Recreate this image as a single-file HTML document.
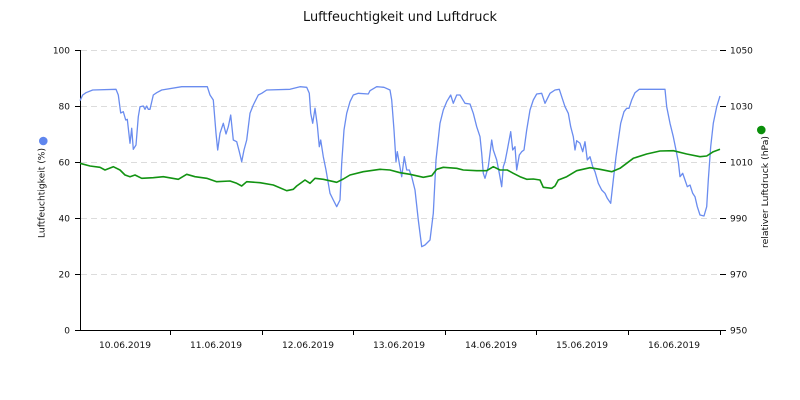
<!DOCTYPE html>
<html><head><meta charset="utf-8"><style>
html,body{margin:0;padding:0;background:#fff;}
svg{display:block;}
text{font-family:"DejaVu Sans","Liberation Sans",sans-serif;fill:#111;}
</style></head><body>
<svg width="800" height="400" viewBox="0 0 800 400" xmlns="http://www.w3.org/2000/svg">
<rect width="800" height="400" fill="#fff"/>
<text x="400" y="21" font-size="13" text-anchor="middle" textLength="194" lengthAdjust="spacingAndGlyphs">Luftfeuchtigkeit und Luftdruck</text>
<g stroke="#dcdcdc" stroke-width="1" stroke-dasharray="6,4">
<line x1="81" y1="50.5" x2="720" y2="50.5"/>
<line x1="81" y1="106.5" x2="720" y2="106.5"/>
<line x1="81" y1="162.5" x2="720" y2="162.5"/>
<line x1="81" y1="218.5" x2="720" y2="218.5"/>
<line x1="81" y1="274.5" x2="720" y2="274.5"/>
</g>
<g stroke="#000" stroke-width="1" fill="none">
<line x1="80.5" y1="50" x2="80.5" y2="330"/>
<line x1="75" y1="330.5" x2="721" y2="330.5"/>
<line x1="75" y1="50.5" x2="80" y2="50.5"/>
<line x1="75" y1="106.5" x2="80" y2="106.5"/>
<line x1="75" y1="162.5" x2="80" y2="162.5"/>
<line x1="75" y1="218.5" x2="80" y2="218.5"/>
<line x1="75" y1="274.5" x2="80" y2="274.5"/>
<line x1="720" y1="50.5" x2="726" y2="50.5"/>
<line x1="720" y1="106.5" x2="726" y2="106.5"/>
<line x1="720" y1="162.5" x2="726" y2="162.5"/>
<line x1="720" y1="218.5" x2="726" y2="218.5"/>
<line x1="720" y1="274.5" x2="726" y2="274.5"/>
<line x1="720" y1="330.5" x2="726" y2="330.5"/>
<line x1="170.5" y1="330" x2="170.5" y2="335"/>
<line x1="262.5" y1="330" x2="262.5" y2="335"/>
<line x1="353.5" y1="330" x2="353.5" y2="335"/>
<line x1="445.5" y1="330" x2="445.5" y2="335"/>
<line x1="536.5" y1="330" x2="536.5" y2="335"/>
<line x1="628.5" y1="330" x2="628.5" y2="335"/>
<line x1="720.5" y1="330" x2="720.5" y2="335"/>
</g>
<g font-size="9" text-anchor="end">
<text x="70" y="53.5">100</text>
<text x="70" y="109.5">80</text>
<text x="70" y="165.5">60</text>
<text x="70" y="221.5">40</text>
<text x="70" y="277.5">20</text>
<text x="70" y="333.5">0</text>
</g>
<g font-size="9" text-anchor="start">
<text x="730" y="53.5">1050</text>
<text x="730" y="109.5">1030</text>
<text x="730" y="165.5">1010</text>
<text x="730" y="221.5">990</text>
<text x="730" y="277.5">970</text>
<text x="730" y="333.5">950</text>
</g>
<g font-size="9" text-anchor="middle">
<text x="125" y="348" textLength="52" lengthAdjust="spacingAndGlyphs">10.06.2019</text>
<text x="216" y="348" textLength="52" lengthAdjust="spacingAndGlyphs">11.06.2019</text>
<text x="308" y="348" textLength="52" lengthAdjust="spacingAndGlyphs">12.06.2019</text>
<text x="399" y="348" textLength="52" lengthAdjust="spacingAndGlyphs">13.06.2019</text>
<text x="491" y="348" textLength="52" lengthAdjust="spacingAndGlyphs">14.06.2019</text>
<text x="582" y="348" textLength="52" lengthAdjust="spacingAndGlyphs">15.06.2019</text>
<text x="674" y="348" textLength="52" lengthAdjust="spacingAndGlyphs">16.06.2019</text>
</g>
<circle cx="43.3" cy="141" r="4.3" fill="#5f86ee"/>
<circle cx="761.3" cy="130" r="4.3" fill="#0a8f0a"/>
<text font-size="9" text-anchor="middle" transform="translate(44.5,193) rotate(-90)" textLength="90" lengthAdjust="spacingAndGlyphs">Luftfeuchtigkeit (%)</text>
<text font-size="9" text-anchor="middle" transform="translate(768,192) rotate(-90)" textLength="112" lengthAdjust="spacingAndGlyphs">relativer Luftdruck (hPa)</text>
<polyline fill="none" stroke="#6a8cef" stroke-width="1.3" stroke-linejoin="round" points="80,100.7 82.7,95 86,92.7 92.7,90 116,89.3 118.3,95 120.7,113 123.3,111.7 125.7,120 127.3,119.3 130,143.3 131.7,128.3 133.3,149.3 136,145 138.3,116.7 140,106.7 143.3,106 145,109.3 146.7,106 148.3,109.3 150,109.3 153.3,95 156.7,92.7 161.7,90 181.7,86.7 207.3,86.7 210,95 213.3,100 216,133.3 217.7,150 220,133.3 223.3,123.3 226,134 228.3,126.7 230.7,115 233.3,140 236.7,141.7 239.3,151.7 241.7,161.7 244,150 246.7,140 250,113.3 253.3,105 258.3,95 261.7,93.3 266.7,90 290,89.3 300,86.7 306.7,87.3 309.3,93.3 310.7,113.3 312.7,123.3 315,108.3 317.3,125 319.3,146.7 320.7,140 323.3,156.7 326,170 328.3,183.3 330,193.3 333.3,200 336.7,206.7 340,200 341.7,163.3 344,130 346.7,113.3 350,101.7 353.3,95 358.3,93.3 368.3,94 370,90.7 376.7,86.7 384,87.3 390,90 391.7,100 394,130 396,161.7 397.3,151.7 399.3,163.3 401.7,176.7 404.3,156.7 406.7,170 409.3,170 411.7,176.7 415,190 418.3,220 421.7,246.7 425,245 430,240 433.3,213.3 436,160 440,123.3 443.3,110 446.7,101.7 450.7,95 453.3,103.3 456.7,95 460,95 465,103.3 470,104 473.3,113.3 476.7,126.7 480,136.7 481.7,153.3 483.3,173.3 485,178.3 488.3,166.7 491.7,140 493.3,150 496.7,160 499.3,173.3 501.7,186.7 503.3,166.7 505,161.7 507.3,150 510.7,131.7 512.7,150 515,146.7 516.7,170 519.3,155 521.7,151.7 524,150 526.7,130 530,110 533.3,100 536.7,94 541.7,93.3 545,103.3 550,93.3 555,90 559.3,89.3 561.7,96.7 565,106.7 568.3,113.3 570.7,126.7 573.3,136.7 575,150 576.7,140.7 580,143.3 582.7,151.7 585,141.7 587.3,160 590,156.7 592.7,166.7 595,171.7 598.3,183.3 601.7,190 605,193.3 607.3,198.3 610.7,203.3 613.3,180 616,156.7 618.3,140 620.7,123.3 624,111.7 626.7,108.3 629,108.3 631.7,100 635,92.7 639.3,89.3 665,89.3 666.7,106.7 670,123.3 673.3,136.7 676,150 678.3,161.7 680,176.7 682.7,173.3 685,180 687.3,186.7 690,185 692.7,193.3 695,196.7 697.3,206.7 700,215 704,216 706.7,206.7 708.3,180 710.7,146.7 713.3,123.3 716.7,106.7 720,96"/>
<polyline fill="none" stroke="#129312" stroke-width="1.6" stroke-linejoin="round" points="80,163.3 90,166 100,167.3 105,170 113.3,166.7 120,170 125,175 130,176.7 135,175 141.7,178.3 153.3,177.7 163.3,176.7 178.3,179.3 186.7,174.3 195,176.7 206.7,178.3 216.7,181.7 230,181 236.7,183.3 241.7,186 246.7,181.7 260,182.7 273.3,185 286.7,190.7 293.3,189.3 296.7,186 305,180 310,183.3 315,178.3 323.3,179.3 336.7,182.3 343.3,179 350,175 363.3,171.7 380,169.3 390,170 400,172.7 410,174.3 423.3,177.3 431.7,175.7 436.7,169.3 443.3,167.3 456.7,168.3 463.3,170 476.7,170.7 486.7,170.7 493.3,166.7 500,170 507.3,170 513.3,173.3 520,176.7 526.7,179.3 533.3,179 540,180 543.3,187.3 551.7,188.3 555,186 558.3,180 566.7,176.7 576.7,170.7 590,167.7 600,169.3 611.7,171.7 620,168.3 633.3,158.3 646.7,154 660,151 673.3,150.7 686.7,154 700,156.7 706.7,156 713.3,151.7 720,149.3"/>
</svg>
</body></html>
